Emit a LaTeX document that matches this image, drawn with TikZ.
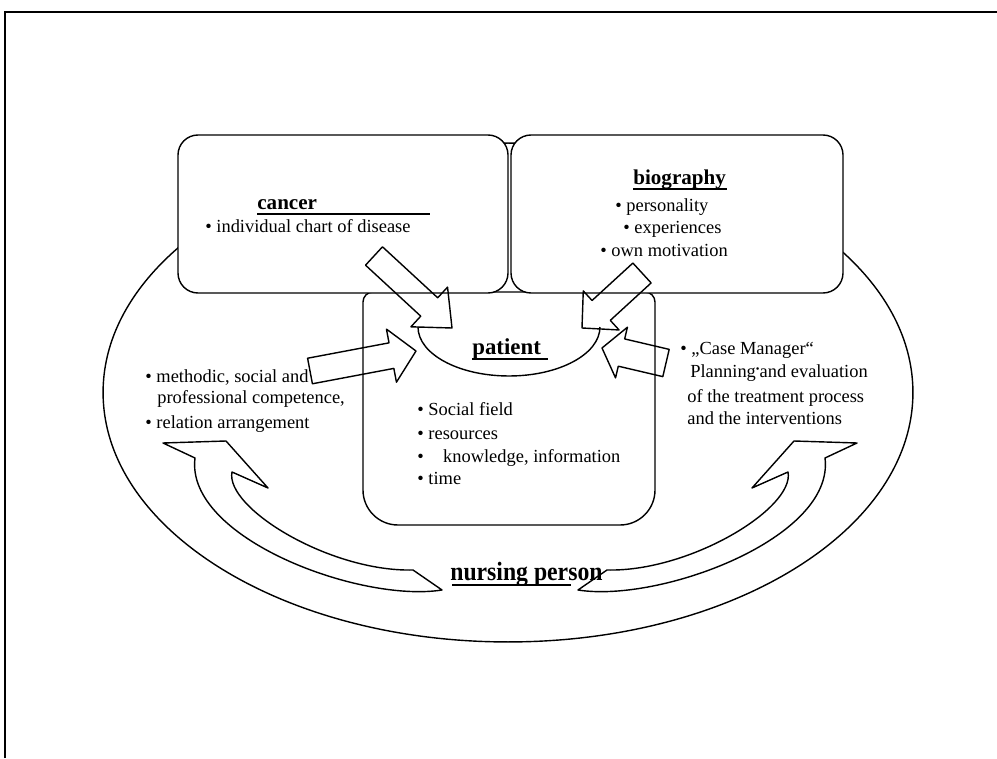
\documentclass[tikz,border=0pt]{standalone}
\usepackage{fontspec}
\setmainfont{Liberation Serif}
\usetikzlibrary{positioning}
\usetikzlibrary{calc}

% block arrow: tail, tip, shaft half width, head length, head half width
\newcommand{\blockarrow}[5]{%
	\path (#2) coordinate (ba-tip) ($(#2)!#4!(#1)$) coordinate (ba-neck);
	\draw[outline] ($(#1)!#3!90:(#2)$) -- ($(ba-neck)!#3!90:(ba-tip)$) -- ($(ba-neck)!#5!90:(ba-tip)$) -- (ba-tip)
		-- ($(ba-neck)!#5!-90:(ba-tip)$) -- ($(ba-neck)!#3!-90:(ba-tip)$) -- ($(#1)!#3!-90:(#2)$) -- cycle;
}

\begin{document}
\begin{tikzpicture}[x=0.02cm, y=0.02cm]
	\tikzstyle{outline} = [line width=0.8pt, line join=round]
	\tikzstyle{box} = [outline, fill=white, rounded corners=0.4cm]
	\tikzstyle{txt} = [inner sep=0pt, anchor=base west, font=\fontsize{10.5}{13}\selectfont]
	\tikzstyle{head} = [inner sep=0pt, anchor=base west, font=\fontsize{12}{14}\selectfont\bfseries]
	\tikzstyle{uline} = [line width=1.4pt]

	\useasboundingbox (0,0) rectangle (997,758);
	\draw[line width=1pt] (5,0) -- (5,746) -- (997,746);

	% outer field and the three boxes
	\draw[outline, fill=white] (508,365.5) ellipse [x radius=8.1cm, y radius=4.99cm];
	\draw[outline, rounded corners=0.2cm] (509,466) -- (363,466) [rounded corners=0.7cm] -- (363,233)
		-- (655,233) [rounded corners=0.2cm] -- (655,466) -- cycle;
	\draw[box] (178,465) rectangle (508,623);
	\draw[box] (511,465) rectangle (843,623);
	\draw[outline] (418,431) arc [start angle=180, end angle=360, x radius=1.82cm, y radius=0.98cm];

	% labels
	\node (cancer) [head] at (257,548) {cancer};
	\draw[uline] ($(cancer.base west)+(0,-4)$) -- ++(173,0);
	\node (cancerA) [txt] at (205,525) {• individual chart of disease};

	\node (bio) [head] at (633,573) {biography};
	\draw[uline] ($(bio.base west)+(0,-4)$) -- ++(94,0);
	\node (bioA) [txt] at (615,546) {• personality};
	\node (bioB) [txt] at (623,524) {• experiences};
	\node (bioC) [txt] at (600,501) {• own motivation};

	\node (patient) [head, font=\fontsize{13}{15}\selectfont\bfseries] at (472,403) {patient};
	\draw[uline] ($(patient.base west)+(0,-4)$) -- ++(76,0);
	\node (patA) [txt] at (417,342) {• Social field};
	\node (patB) [txt] at (417,318) {• resources};
	\node (patC) [txt] at (417,296) {•\hspace{11pt}knowledge, information};
	\node (patD) [txt] at (417,274) {• time};

	\node (leftA) [txt] at (145,376) {• methodic, social and};
	\node (leftB) [txt] at (157,355) {professional competence,};
	\node (leftC) [txt] at (145,330) {• relation arrangement};

	\node (rightA) [txt] at (680,403) {• „Case Manager“};
	\node (rightB) [txt] at (690,380) {Planning{\fontsize{6}{6}\selectfont\raisebox{3pt}{•}}and evaluation};
	\node (rightC) [txt] at (687,356) {of the treatment process};
	\node (rightD) [txt] at (687,334) {and the interventions};

	\node (nurse) [head, font=\fontsize{15}{17}\selectfont\bfseries, xscale=0.9] at (450,178) {nursing person};
	\draw[uline] (452,173) -- (571,173);

	% straight block arrows towards the patient
	\coordinate (cancerTail) at (374,502);
	\coordinate (cancerTip) at (452,430);
	\coordinate (bioTail) at (642,485);
	\coordinate (bioTip) at (582,430);
	\coordinate (leftTail) at (310,387);
	\coordinate (leftTip) at (416,407);
	\coordinate (rightTail) at (666,395);
	\coordinate (rightTip) at (602,410);
	\blockarrow{cancerTail}{cancerTip}{0.25cm}{0.62cm}{0.54cm}
	\blockarrow{bioTail}{bioTip}{0.27cm}{0.52cm}{0.53cm}
	\blockarrow{leftTail}{leftTip}{0.26cm}{0.5cm}{0.54cm}
	\blockarrow{rightTail}{rightTip}{0.28cm}{0.4cm}{0.52cm}

	% curved arrows of the nursing person
	\foreach \side in {1,-1} {
		\begin{scope}[shift={({510-510*\side},0)}, xscale=\side]
			\draw[outline] (163,315) -- (226,317) -- (268,270) -- (232,286)
				.. controls (225,250) and (330,186) .. (413,188) -- (442,168)
				.. controls (360,155) and (185,220) .. (195,300) -- cycle;
		\end{scope}
	}
\end{tikzpicture}
\end{document}
